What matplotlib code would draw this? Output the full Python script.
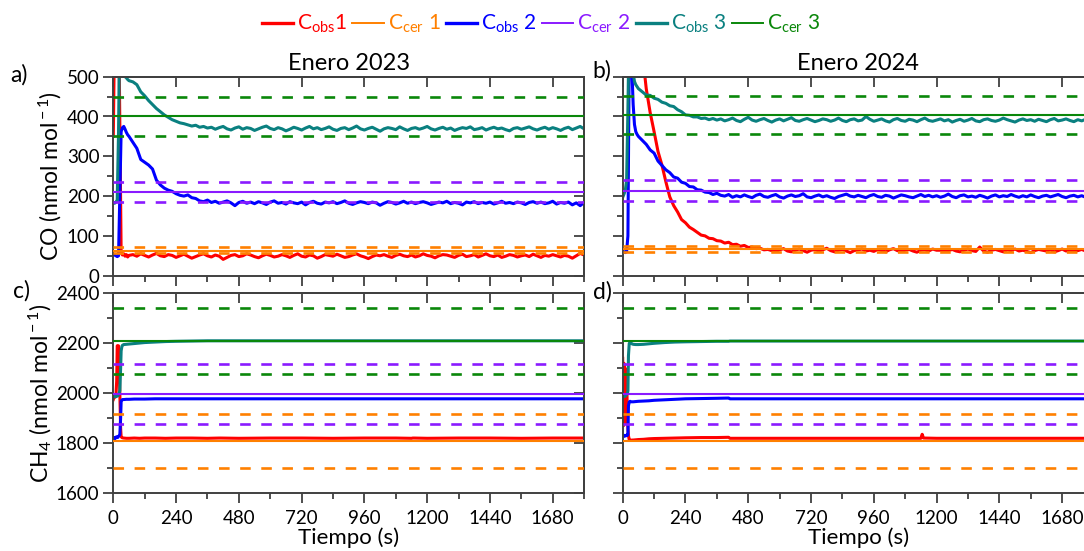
import matplotlib
matplotlib.use('Agg')
import matplotlib.pyplot as plt
from matplotlib.ticker import MultipleLocator, NullLocator, FixedLocator
from matplotlib.lines import Line2D

plt.rcParams['font.family'] = ['Lato', 'DejaVu Sans']
plt.rcParams['mathtext.fontset'] = 'custom'
plt.rcParams['mathtext.rm'] = 'Lato'
plt.rcParams['mathtext.it'] = 'Lato:italic'
plt.rcParams['mathtext.bf'] = 'Lato:bold'

# ---------------- data ----------------
titles = ['Enero 2023', 'Enero 2024']
xticks = [0, 240, 480, 720, 960, 1200, 1440, 1680]
legend_labels = [r'C$_{\rm obs}$1', r'C$_{\rm cer}$ 1', r'C$_{\rm obs}$ 2',
                 r'C$_{\rm cer}$ 2', r'C$_{\rm obs}$ 3', r'C$_{\rm cer}$ 3']

# time axis of the CO records (s)
t_co = [0, 5, 10, 15, 20, 25, 30, 35, 40, 45, 50, 55, 60] + list(range(75, 1801, 15))

co23_obs1 = [350, 620, 720, 720, 700, 380, 58, 52, 55, 49, 53, 47, 51,
             53, 49, 55, 51, 47, 52, 56, 50, 48, 53,
             51, 46, 50, 54, 49, 44, 48, 52, 55, 50,
             47, 52, 49, 41, 46, 51, 53, 48, 50, 55,
             52, 48, 45, 50, 54, 51, 47, 49, 53, 50,
             46, 51, 55, 49, 47, 52, 50, 44, 48, 53,
             51, 49, 54, 50, 46, 48, 52, 55, 50, 47,
             43, 48, 52, 50, 53, 49, 46, 51, 54, 50,
             48, 52, 47, 50, 55, 51, 49, 45, 50, 53,
             52, 49, 46, 51, 54, 48, 50, 53, 47, 51,
             55, 50, 48, 52, 46, 49, 53, 51, 47, 50,
             52, 48, 54, 50, 46, 51, 49, 53, 50, 47,
             51, 49, 44, 50, 56, 52]

co23_obs2 = [54, 52, 50, 48, 50, 200, 362, 372, 375, 368, 360, 354, 350,
             335, 320, 292, 285, 278, 268, 240, 228, 220, 215,
             212, 206, 202, 200, 203, 196, 194, 188, 186, 190,
             184, 187, 182, 185, 188, 183, 176, 184, 187, 182,
             185, 181, 186, 183, 179, 185, 188, 182, 184, 180,
             186, 183, 181, 185, 178, 184, 187, 182, 180, 185,
             183, 186, 181, 184, 188, 182, 179, 183, 186, 184,
             181, 185, 183, 177, 182, 186, 184, 180, 183, 187,
             182, 185, 181, 184, 186, 183, 179, 182, 185, 183,
             187, 181, 184, 182, 178, 185, 183, 186, 181, 184,
             182, 185, 180, 183, 187, 182, 184, 181, 185, 183,
             179, 184, 186, 182, 185, 181, 183, 187, 180, 184,
             182, 185, 178, 183, 176, 184]

co23_obs3 = [183, 182, 185, 190, 360, 650, 650, 600, 520, 500, 497, 493, 490,
             487, 480, 462, 452, 440, 430, 420, 412, 404, 398,
             392, 388, 384, 382, 379, 376, 378, 373, 375, 371,
             373, 368, 372, 375, 369, 366, 371, 374, 368, 372,
             370, 365, 369, 373, 376, 370, 367, 372, 369, 364,
             368, 373, 370, 366, 371, 375, 369, 372, 367, 370,
             374, 368, 365, 370, 372, 367, 371, 376, 369, 366,
             370, 373, 368, 363, 369, 372, 370, 367, 374, 369,
             365, 370, 372, 368, 371, 375, 369, 366, 370, 373,
             368, 371, 365, 369, 372, 370, 374, 367, 369, 372,
             366, 370, 373, 369, 371, 367, 364, 370, 372, 368,
             371, 374, 369, 366, 370, 373, 368, 372, 369, 365,
             370, 373, 367, 371, 375, 369]

co24_obs1 = [510, 900, 1000, 1000, 950, 900, 850, 800, 760, 720, 680, 640, 610,
             560, 470, 410, 362, 312, 278, 236, 198, 176, 160,
             141, 133, 122, 116, 109, 102, 100, 94, 93, 88,
             87, 82, 84, 78, 79, 74, 76, 71, 72, 68,
             69, 65,
             66, 63, 61, 65, 68, 62, 60, 64, 67, 63,
             59, 64, 66, 62, 65, 69, 63, 60, 64, 66,
             62, 58, 63, 65, 67, 62, 64, 61, 66, 63,
             60, 65, 68, 63, 61, 64, 66, 62, 59, 64,
             65, 62, 67, 64, 64, 61, 63, 66, 62, 60,
             64, 67, 63, 61, 72, 62, 59, 64, 66, 63,
             60, 65, 63, 67, 62, 64, 61, 58, 63, 66,
             64, 62, 65, 60, 63, 67, 62, 64, 61, 63,
             66, 62, 60, 64]

co24_obs2 = [62, 60, 58, 61, 100, 560, 600, 520, 430, 380, 362, 355, 350,
             340, 330, 316, 308, 288, 277, 266, 259, 248, 245,
             235, 232, 224, 223, 216, 215, 210, 209, 204, 207,
             202, 200, 204, 197,
             201, 198, 203, 199, 196, 202, 205, 199, 197, 201,
             204, 198, 195, 200, 203, 199, 201, 206, 198, 196,
             200, 203, 198, 201, 197, 194, 199, 202, 205, 200,
             198, 202, 199, 196, 201, 204, 199, 197, 202, 200,
             195, 199, 203, 201, 198, 196, 200, 204, 199, 202,
             198, 201, 197, 200, 205, 199, 196, 201, 203, 198,
             200, 197, 202, 199, 195, 200, 203, 198, 201, 199,
             204, 200, 197, 201, 198, 203, 199, 196, 200, 202,
             198, 201, 204, 199, 196, 200, 202, 198, 201, 197,
             203, 200]

co24_obs3 = [197, 205, 215, 240, 420, 650, 620, 560, 510, 488, 480, 475, 470,
             462, 454, 453, 446, 443, 436, 433, 427, 425, 417,
             412, 404, 403, 399, 399, 395, 396, 392, 395, 391,
             394, 389, 392, 396, 390, 387, 393, 398, 391, 388,
             392, 395, 390, 386, 391, 394, 389, 393, 397, 390,
             388, 392, 395, 391, 387, 390, 394, 392, 388, 391,
             396, 390, 387, 392, 394, 389, 391, 400, 393, 388,
             391, 394, 389, 386, 392, 395, 390, 388, 393, 391,
             387, 392, 396, 390, 388, 391, 394, 389, 392, 386,
             390, 393, 388, 391, 395, 389, 387, 392, 394, 390,
             388, 391, 396, 392, 389, 386, 391, 394, 390, 392,
             388, 393, 390, 387, 392, 395, 389, 391, 394, 390,
             387, 392, 389, 393, 396, 391]

# certified values (solid) and their limits (dashed), order: 1, 2, 3
co23_cer = [63, 211, 400]
co23_lo = [56, 186, 352]
co23_hi = [71, 236, 448]
co24_cer = [67, 214, 403]
co24_lo = [59, 188, 355]
co24_hi = [75, 240, 451]
ch4_cer = [1809, 1998, 2209]
ch4_lo = [1700, 1878, 2077]
ch4_hi = [1918, 2119, 2342]

# time axis of the CH4 records (s)
t_ch4 = [0, 3, 5, 8, 10, 13, 15, 18, 20, 22, 25, 28, 30, 33, 35, 40, 50, 60, 80, 100,
         120, 160, 200, 240, 300, 360, 405, 410, 480, 600, 720, 840, 960, 1080,
         1140, 1145, 1150, 1200, 1320, 1440, 1560, 1680, 1800]

ch423_obs1 = [1975, 1985, 1990, 1985, 1990, 2050, 2190, 2185, 2190, 2150, 2000, 1860, 1826, 1823,
              1822, 1821, 1820, 1820, 1821, 1820, 1821, 1821, 1820, 1821, 1821, 1820, 1821, 1821,
              1820, 1821, 1821, 1820, 1821, 1821, 1820, 1821, 1821, 1820, 1821, 1821, 1820, 1821, 1821]
ch423_obs2 = [1821, 1818, 1822, 1820, 1825, 1823, 1826, 1824, 1828, 1830, 1835, 1900, 1968, 1973,
              1975, 1975, 1976, 1976, 1977, 1977, 1977, 1978, 1978, 1978, 1978, 1978, 1978, 1978,
              1978, 1978, 1978, 1978, 1978, 1978, 1978, 1978, 1978, 1978, 1978, 1978, 1978, 1978, 1978]
ch423_obs3 = [1988, 1985, 1990, 1987, 1990, 1988, 1992, 1990, 1995, 2000, 2010, 2100, 2170, 2188,
              2192, 2195, 2196, 2197, 2199, 2201, 2203, 2205, 2207, 2208, 2209, 2210, 2210, 2210,
              2210, 2210, 2210, 2210, 2210, 2210, 2210, 2210, 2210, 2210, 2210, 2210, 2210, 2210, 2210]

ch424_obs1 = [2140, 1870, 2120, 1880, 2100, 1950, 2080, 1900, 1860, 1830, 1815, 1812, 1812, 1812,
              1813, 1813, 1814, 1815, 1816, 1818, 1819, 1820, 1821, 1822, 1823, 1823, 1824, 1820,
              1820, 1820, 1820, 1820, 1820, 1820, 1820, 1836, 1821, 1820, 1820, 1820, 1820, 1820, 1820]
ch424_obs2 = [1830, 1828, 1832, 1829, 1831, 1830, 1833, 1832, 1835, 1950, 1965, 1968, 1967, 1966,
              1966, 1966, 1967, 1968, 1969, 1970, 1972, 1974, 1976, 1978, 1979, 1980, 1981, 1978,
              1978, 1978, 1978, 1978, 1978, 1978, 1978, 1978, 1978, 1978, 1978, 1978, 1978, 1978, 1978]
ch424_obs3 = [1985, 1990, 1987, 1992, 1989, 1993, 1995, 2000, 2010, 2150, 2200, 2203, 2203, 2200,
              2198, 2196, 2195, 2195, 2196, 2198, 2200, 2203, 2205, 2206, 2207, 2208, 2208, 2209,
              2209, 2209, 2209, 2209, 2209, 2209, 2209, 2209, 2209, 2209, 2209, 2209, 2209, 2209, 2209]

# ---------------- style ----------------
OBS_COLORS = ['#ff0000', '#0000ff', '#0a8080']
CER_COLORS = ['#ff8000', '#8a1aff', '#0a870a']
SPINE = '#404040'
W, H = 1084, 551

fig = plt.figure(figsize=(W / 100, H / 100), dpi=100)

def px_axes(x0, y0, x1, y1):
    return fig.add_axes([x0 / W, 1 - y1 / H, (x1 - x0) / W, (y1 - y0) / H])

ax_a = px_axes(113.3, 76.7, 584.1, 275.7)
ax_b = px_axes(622.7, 76.7, 1093.5, 275.7)
ax_c = px_axes(113.3, 293.3, 584.1, 493.3)
ax_d = px_axes(622.7, 293.3, 1093.5, 493.3)


def draw(ax, t, obs, cer, lo, hi):
    for i in range(3):
        ax.plot(t, obs[i], color=OBS_COLORS[i], lw=2.2, zorder=2, solid_joinstyle='round')
    for i in range(3):
        ax.axhline(cer[i], color=CER_COLORS[i], lw=1.5, zorder=3)
        ax.axhline(lo[i], color=CER_COLORS[i], lw=1.9, ls=(0, (4, 4)), zorder=3)
        ax.axhline(hi[i], color=CER_COLORS[i], lw=1.9, ls=(0, (4, 4)), zorder=3)


def style(ax, ylim, ymaj, ymin, ylabels, xlabels):
    ax.set_xlim(0, 1800)
    ax.set_ylim(*ylim)
    for s in ax.spines.values():
        s.set_color(SPINE)
        s.set_linewidth(1.4)
    ax.xaxis.set_major_locator(FixedLocator(xticks))
    ax.xaxis.set_minor_locator(MultipleLocator(120))
    ax.yaxis.set_major_locator(MultipleLocator(ymaj))
    ax.yaxis.set_minor_locator(MultipleLocator(ymin))
    ax.tick_params(which='major', direction='out', length=7, width=1.3, color=SPINE,
                   labelsize=13.5)
    ax.tick_params(which='minor', direction='out', length=4, width=1.3, color=SPINE)
    ax.tick_params(axis='x', pad=5)
    ax.tick_params(axis='y', pad=3)
    ax.tick_params(labelleft=ylabels, labelbottom=xlabels)
    top = ax.secondary_xaxis('top')
    top.xaxis.set_major_locator(FixedLocator(xticks))
    top.xaxis.set_minor_locator(NullLocator())
    top.tick_params(direction='in', length=7, width=1.3, color=SPINE, labeltop=False)
    top.spines['top'].set_color(SPINE)
    top.spines['top'].set_linewidth(1.4)
    right = ax.secondary_yaxis('right')
    right.yaxis.set_major_locator(MultipleLocator(ymaj))
    right.yaxis.set_minor_locator(NullLocator())
    right.tick_params(direction='in', length=7, width=1.3, color=SPINE, labelright=False)
    right.spines['right'].set_color(SPINE)
    right.spines['right'].set_linewidth(1.4)


draw(ax_a, t_co, [co23_obs1, co23_obs2, co23_obs3], co23_cer, co23_lo, co23_hi)
draw(ax_b, t_co, [co24_obs1, co24_obs2, co24_obs3], co24_cer, co24_lo, co24_hi)
draw(ax_c, t_ch4, [ch423_obs1, ch423_obs2, ch423_obs3], ch4_cer, ch4_lo, ch4_hi)
draw(ax_d, t_ch4, [ch424_obs1, ch424_obs2, ch424_obs3], ch4_cer, ch4_lo, ch4_hi)

style(ax_a, (0, 500), 100, 50, True, False)
style(ax_b, (0, 500), 100, 50, False, False)
style(ax_c, (1600, 2400), 200, 100, True, True)
style(ax_d, (1600, 2400), 200, 100, False, True)

ax_a.set_title(titles[0], fontsize=17, pad=5)
ax_b.set_title(titles[1], fontsize=17, pad=5)
ax_a.set_ylabel(r'CO (nmol mol$^{\rm -1}$)', fontsize=16.5, labelpad=2)
ax_c.set_ylabel(r'CH$_{\rm 4}$ (nmol mol$^{\rm -1}$)', fontsize=16.5, labelpad=1)
ax_c.set_xlabel('Tiempo (s)', fontsize=16, labelpad=0)
ax_d.set_xlabel('Tiempo (s)', fontsize=16, labelpad=0)

for lab, x, y in [('a)', 10, 75), ('b)', 592, 71), ('c)', 13, 291), ('d)', 593, 292)]:
    fig.text(x / W, 1 - y / H, lab, fontsize=16.5, ha='left', va='center')

handles = []
for i in range(3):
    handles.append(Line2D([], [], color=OBS_COLORS[i], lw=2.4))
    handles.append(Line2D([], [], color=CER_COLORS[i], lw=1.4))
colors = [OBS_COLORS[0], CER_COLORS[0], OBS_COLORS[1], CER_COLORS[1], OBS_COLORS[2], CER_COLORS[2]]
leg = fig.legend(handles, legend_labels, loc='center', bbox_to_anchor=(541 / W, 1 - 24 / H),
                 ncol=6, frameon=False, fontsize=15, handlelength=1.5, handletextpad=0.2,
                 columnspacing=0.25, borderpad=0, borderaxespad=0)
for txt, c in zip(leg.get_texts(), colors):
    txt.set_color(c)

fig.savefig('out.png', dpi=100)
